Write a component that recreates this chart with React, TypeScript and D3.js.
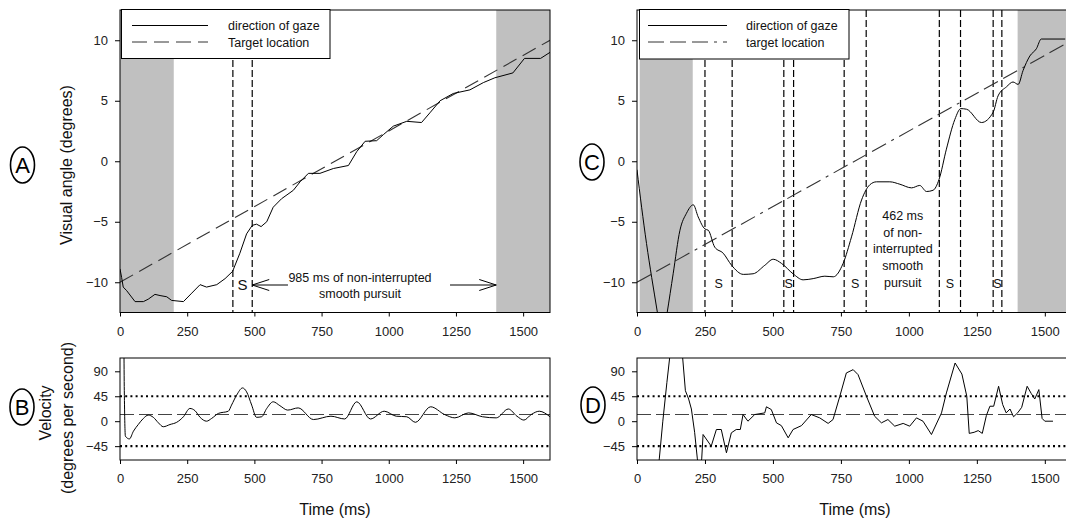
import React, { useRef, useEffect } from "react";
import * as d3 from "d3";

type Pt = [number, number];

const FONT = "Arial, 'Liberation Sans', sans-serif";

// shared ticks
const timeTicks = [0, 250, 500, 750, 1000, 1250, 1500];
const angleTicks = [-10, -5, 0, 5, 10];
const velocityTicks = [-45, 0, 45, 90];
const velocityThresholds = [-45, 45];
const velocityMean = 12;

// panel A - direction of gaze (deg) over time (ms)
const gazeA: Pt[] = [
  [0, -8.9], [6, -9.6], [12, -10.4], [25, -10.7], [56, -11.6], [87, -11.6], [105, -11.4],
  [130, -11.0], [149, -11.1], [174, -11.2], [192, -11.5], [236, -11.6], [267, -10.9],
  [298, -10.2], [322, -10.4], [360, -10.2], [391, -9.7], [419, -9.1], [446, -7.6],
  [471, -6.0], [492, -5.3], [508, -5.2], [525, -5.4], [546, -5.0], [570, -3.8],
  [601, -3.1], [645, -2.4], [670, -1.7], [701, -1.0], [744, -1.0], [794, -0.6],
  [850, -0.35], [881, 0.8], [912, 1.65], [955, 1.7], [980, 2.2], [1017, 2.9],
  [1067, 3.3], [1122, 3.2], [1153, 4.0], [1191, 5.0], [1240, 5.6], [1302, 5.9],
  [1352, 6.5], [1395, 6.9], [1462, 7.3], [1505, 8.5], [1565, 8.5], [1600, 9.0],
];
const targetA: Pt[] = [[0, -10], [1600, 10]];
const shadeA: Pt[] = [[0, 200], [1400, 1600]];
const saccadeA = [420, 492];
const arrowsA: Pt[] = [[625, 492], [1228, 1400]];
const noteA = ["985 ms of non-interrupted", "smooth pursuit"];

// panel B - velocity (deg/s)
const velocityB: Pt[] = [
  [0, 200], [13, 200], [16, 55], [20, -27], [35, -32], [50, -18], [68, -6], [87, 5],
  [105, 11], [124, 7], [143, -3], [161, -10], [186, -6], [211, -2], [236, 8], [260, 23],
  [279, 19], [298, 7], [322, 0], [341, 5], [366, 14], [403, 18], [415, 29], [434, 47],
  [456, 60], [471, 53], [490, 29], [508, 7], [527, 8], [546, 23], [570, 35], [595, 28],
  [624, 20], [663, 24], [720, 3], [785, 9], [836, 4], [881, 35], [932, 4], [983, 18],
  [1028, 9], [1067, 8], [1099, -2], [1156, 26], [1208, 12], [1246, 6], [1297, 15],
  [1349, 8], [1400, 6], [1445, 22], [1477, 9], [1503, 2], [1530, 12], [1560, 18], [1600, 8],
];

// panel C
const gazeC: Pt[] = [
  [0, -0.7], [17, -3.8], [35, -6.8], [54, -9.6], [75, -12.5], [92, -15], [111, -12.5],
  [133, -9.3], [158, -5.7], [182, -4.3], [207, -3.6], [225, -4.6], [250, -5.6],
  [262, -5.7], [286, -7.1], [317, -7.6], [348, -8.6], [391, -9.35], [427, -9.3],
  [470, -8.6], [501, -8.1], [532, -8.45], [574, -9.3], [611, -9.8], [648, -9.7],
  [691, -9.5], [722, -9.55], [758, -8.45], [789, -6.25], [826, -3.2], [856, -1.95],
  [881, -1.7], [930, -1.7], [967, -1.9], [1010, -2.2], [1040, -2.0], [1065, -2.5],
  [1089, -2.4], [1111, -1.5], [1138, 1.0], [1169, 3.45], [1191, 4.35], [1212, 4.3],
  [1267, 3.2], [1310, 4.05], [1328, 5.4], [1359, 6.15], [1383, 6.55], [1402, 6.35],
  [1420, 7.5], [1445, 8.7], [1469, 9.3], [1487, 10.1], [1575, 10.1],
];
const targetC: Pt[] = [[0, -10], [1600, 10]];
const shadeC: Pt[] = [[10, 205], [1400, 1600]];
const saccadeC = [250, 350, 540, 576, 762, 843, 1112, 1190, 1310, 1342];
const noteC = ["462 ms", "of non-", "interrupted", "smooth", "pursuit"];

// panel D
const velocityD: Pt[] = [
  [0, -150], [60, -150], [82, -68], [95, 0], [110, 70], [120, 114], [125, 140], [160, 140],
  [168, 114], [178, 55], [190, 40], [200, 22], [212, -20], [222, -68], [230, -90],
  [238, -68], [243, -24], [273, -45], [292, -15], [310, -15], [329, -57], [347, -21],
  [365, -15], [380, -15], [390, 12], [408, 0], [433, 12], [470, 15], [476, 26], [494, 21],
  [513, -3], [531, -8], [556, -30], [574, -15], [605, -8], [641, 12], [672, 6], [703, -4],
  [721, 3], [746, 45], [770, 87], [795, 93], [813, 84], [844, 45], [874, 9], [899, -3],
  [923, 3], [948, -9], [979, -4], [1003, -9], [1028, 6], [1052, 0], [1083, -24],
  [1120, 15], [1138, 51], [1170, 105], [1195, 85], [1213, 45], [1222, -22], [1240, -20],
  [1255, -17], [1270, -22], [1285, 10], [1298, 27], [1312, 27], [1330, 63], [1345, 30],
  [1358, 15], [1372, 22], [1385, 8], [1400, 15], [1415, 25], [1435, 63], [1450, 50],
  [1463, 40], [1478, 57], [1490, 5], [1500, 0], [1530, 0],
];

const legendA = ["direction of gaze", "Target location"];
const legendC = ["direction of gaze", "target location"];

const App = () => {
  const svgRef = useRef<SVGSVGElement>(null);

  useEffect(() => {
    const svg = d3.select(svgRef.current);
    svg.selectAll("*").remove();
    const defs = svg.append("defs");

    const xLeft = d3.scaleLinear().domain([0, 1600]).range([120, 550]);
    const xRight = d3.scaleLinear().domain([0, 1600]).range([637, 1072]);
    const angleY = d3.scaleLinear().domain([-12.5, 12.5]).range([312.5, 10]);
    const velY = d3.scaleLinear().domain([-70, 114]).range([460, 358]);

    // clipped group for a plot area
    const plotArea = (id, x, y) => {
      const [x0, x1] = x.range();
      const [y0, y1] = y.range();
      defs.append("clipPath").attr("id", id).append("rect")
        .attr("x", x0).attr("y", y1).attr("width", x1 - x0).attr("height", y0 - y1);
      return svg.append("g").attr("clip-path", `url(#${id})`);
    };

    const frameAndAxes = (x, y, yTicks) => {
      const [x0, x1] = x.range();
      const [y0, y1] = y.range();
      svg.append("rect")
        .attr("x", x0).attr("y", y1).attr("width", x1 - x0).attr("height", y0 - y1)
        .attr("fill", "none").attr("stroke", "#000").attr("stroke-width", 1);
      const xa = svg.append("g").attr("transform", `translate(0,${y0})`)
        .call(d3.axisBottom(x).tickValues(timeTicks).tickFormat(d3.format("d"))
          .tickSize(4).tickPadding(10).tickSizeOuter(0));
      const ya = svg.append("g").attr("transform", `translate(${x0},0)`)
        .call(d3.axisLeft(y).tickValues(yTicks).tickFormat(d3.format("d"))
          .tickSize(5).tickPadding(7).tickSizeOuter(0));
      [xa, ya].forEach((a) => {
        a.select(".domain").remove();
        a.attr("font-size", 13).attr("font-family", FONT);
        a.selectAll("text").attr("fill", "#222");
      });
    };

    const anglePanel = (id, x, gaze, target, shade, saccades, targetDash, curve) => {
      const g = plotArea(id, x, angleY);
      g.selectAll(".shade").data(shade).enter().append("rect")
        .attr("x", (d) => x(d[0])).attr("width", (d) => x(d[1]) - x(d[0]))
        .attr("y", angleY(12.5)).attr("height", angleY(-12.5) - angleY(12.5))
        .attr("fill", "#c0c0c0");
      g.selectAll(".sac").data(saccades).enter().append("line")
        .attr("x1", (d) => x(d)).attr("x2", (d) => x(d))
        .attr("y1", angleY(12.5)).attr("y2", angleY(-12.5))
        .attr("stroke", "#000").attr("stroke-width", 1.2).attr("stroke-dasharray", "7,3");
      const line = d3.line<Pt>().x((d) => x(d[0])).y((d) => angleY(d[1]));
      g.append("path").attr("d", line(target)).attr("fill", "none")
        .attr("stroke", "#333").attr("stroke-width", 1.1).attr("stroke-dasharray", targetDash);
      g.append("path").attr("d", line.curve(curve)(gaze)).attr("fill", "none")
        .attr("stroke", "#000").attr("stroke-width", 1);
      return g;
    };

    const velocityPanel = (id, x, vel, curve) => {
      const g = plotArea(id, x, velY);
      const [x0, x1] = x.range();
      g.selectAll(".thr").data(velocityThresholds).enter().append("line")
        .attr("x1", x0).attr("x2", x1).attr("y1", (d) => velY(d)).attr("y2", (d) => velY(d))
        .attr("stroke", "#000").attr("stroke-width", 2.2).attr("stroke-dasharray", "2,3.2");
      g.append("line").attr("x1", x0).attr("x2", x1)
        .attr("y1", velY(velocityMean)).attr("y2", velY(velocityMean))
        .attr("stroke", "#444").attr("stroke-width", 1.1).attr("stroke-dasharray", "14,5");
      const line = d3.line<Pt>().x((d) => x(d[0])).y((d) => velY(d[1])).curve(curve);
      g.append("path").attr("d", line(vel)).attr("fill", "none")
        .attr("stroke", "#000").attr("stroke-width", 1);
    };

    const legend = (lx, ly, w, h, labels, dash, lineX0, lineX1, textX) => {
      const lg = svg.append("g");
      lg.append("rect").attr("x", lx).attr("y", ly).attr("width", w).attr("height", h)
        .attr("fill", "#fff").attr("stroke", "#000").attr("stroke-width", 1);
      labels.forEach((t, i) => {
        const yy = ly + 16 + i * 16.5;
        lg.append("line").attr("x1", lineX0).attr("x2", lineX1).attr("y1", yy).attr("y2", yy)
          .attr("stroke", i === 0 ? "#000" : "#333").attr("stroke-width", 1)
          .attr("stroke-dasharray", i === 0 ? null : dash);
        lg.append("text").attr("x", textX).attr("y", yy + 4.5).text(t)
          .attr("font-family", FONT).attr("font-size", 12.5).attr("fill", "#111");
      });
    };

    const text = (t, x, y, size, anchor = "middle") =>
      svg.append("text").attr("x", x).attr("y", y).text(t)
        .attr("font-family", FONT).attr("font-size", size)
        .attr("text-anchor", anchor).attr("fill", "#111");

    // ---- panel A
    anglePanel("clipA", xLeft, gazeA, targetA, shadeA, saccadeA, "15,7", d3.curveLinear);
    frameAndAxes(xLeft, angleY, angleTicks);
    legend(121.5, 9.5, 208.5, 49, legendA, "15,7", 132, 208, 228);
    text("S", xLeft((saccadeA[0] + saccadeA[1]) / 2), 290, 15);
    noteA.forEach((t, i) => text(t, 360, 281.5 + i * 16.5, 12.5));
    const arrowY = 285;
    arrowsA.forEach(([from, to]) => {
      const xf = xLeft(from), xt = xLeft(to);
      const dir = xt > xf ? 1 : -1;
      svg.append("line").attr("x1", xf).attr("x2", xt).attr("y1", arrowY).attr("y2", arrowY)
        .attr("stroke", "#000").attr("stroke-width", 1);
      svg.append("path")
        .attr("d", `M${xt - dir * 17},${arrowY - 5.5}L${xt},${arrowY}L${xt - dir * 17},${arrowY + 5.5}`)
        .attr("fill", "none").attr("stroke", "#000").attr("stroke-width", 1);
    });

    // ---- panel C
    anglePanel("clipC", xRight, gazeC, targetC, shadeC, saccadeC, "16,6,16,6,16,6,3,6", d3.curveMonotoneX);
    frameAndAxes(xRight, angleY, angleTicks);
    legend(639.5, 9.5, 209.5, 49.5, legendC, "16,6,16,6,16,6,3,6", 648, 727, 746);
    d3.range(0, saccadeC.length, 2).forEach((i) =>
      text("S", xRight((saccadeC[i] + saccadeC[i + 1]) / 2), 288.3, 12.5));
    noteC.forEach((t, i) => text(t, xRight((saccadeC[5] + saccadeC[6]) / 2), 220 + i * 16.7, 12.5));

    // ---- panels B and D
    velocityPanel("clipB", xLeft, velocityB, d3.curveMonotoneX);
    frameAndAxes(xLeft, velY, velocityTicks);
    velocityPanel("clipD", xRight, velocityD, d3.curveLinear);
    frameAndAxes(xRight, velY, velocityTicks);

    // axis titles
    text("Time (ms)", 335, 515, 16);
    text("Time (ms)", 855, 515, 16);
    const vtext = (t, x, y) =>
      svg.append("text").attr("transform", `translate(${x},${y}) rotate(-90)`)
        .attr("dy", "0.35em").attr("text-anchor", "middle").text(t)
        .attr("font-family", FONT).attr("font-size", 16).attr("fill", "#111");
    vtext("Visual angle (degrees)", 66, 165);
    vtext("Velocity", 45, 413);
    vtext("(degrees per second)", 67, 418);

    // circled panel letters
    [["A", 22.5, 165], ["B", 22, 407], ["C", 592, 162], ["D", 593, 405]].forEach(([l, cx, cy]) => {
      svg.append("ellipse").attr("cx", cx).attr("cy", cy).attr("rx", 12).attr("ry", 18)
        .attr("fill", "#fff").attr("stroke", "#000").attr("stroke-width", 1.6);
      svg.append("text").attr("x", cx).attr("y", cy).attr("dy", "0.36em")
        .attr("text-anchor", "middle").text(l as string)
        .attr("font-family", FONT).attr("font-size", 22).attr("fill", "#000");
    });
  }, []);

  return (
    <svg
      ref={svgRef}
      width={1066}
      height={519}
      style={{ position: "absolute", left: 0, top: 0, background: "#fff" }}
    />
  );
};

export default App;
